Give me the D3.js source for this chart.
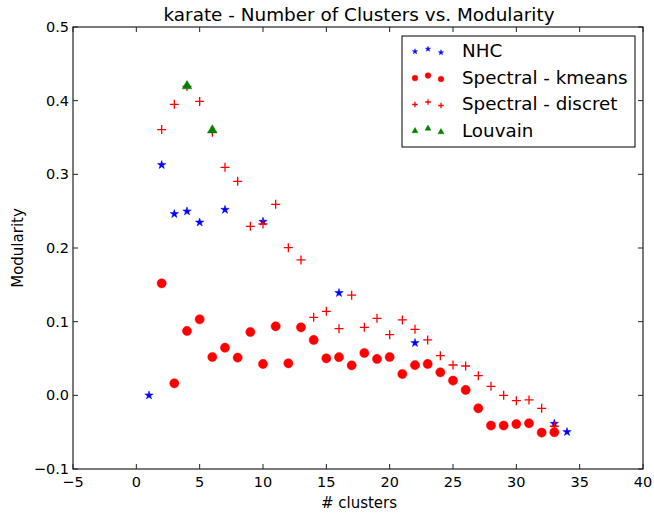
<!DOCTYPE html>
<html>
<head>
<meta charset="utf-8">
<script src="https://cdn.jsdelivr.net/npm/d3@7"></script>
<style>
  body { margin: 0; background: #fff; }
  svg { display: block; font-family: "DejaVu Sans", sans-serif; }
</style>
</head>
<body>
<svg id="chart" width="654" height="516"></svg>
<script>
// data
const nhcX = [1, 2, 3, 4, 5, 7, 10, 16, 22, 33, 34];
const nhcY = [0.0, 0.3127, 0.2462, 0.2498, 0.2348, 0.252, 0.2358, 0.139, 0.0711, -0.0384, -0.0497];

const kmeansX = [2, 3, 4, 5, 6, 7, 8, 9, 10, 11, 12, 13, 14, 15, 16, 17, 18, 19, 20, 21, 22, 23, 24, 25, 26, 27, 28, 29, 30, 31, 32, 33];
const kmeansY = [0.152, 0.0163, 0.0874, 0.1032, 0.052, 0.0647, 0.0512, 0.086, 0.0426, 0.0937, 0.0434, 0.0923, 0.0752, 0.0502, 0.0518,
  0.0407, 0.0575, 0.0494, 0.052, 0.029, 0.041, 0.0426, 0.0312, 0.020, 0.0073, -0.0176, -0.041, -0.041, -0.039, -0.038, -0.0506, -0.050];

const discretX = [2, 3, 4, 5, 6, 7, 8, 9, 10, 11, 12, 13, 14, 15, 16, 17, 18, 19, 20, 21, 22, 23, 24, 25, 26, 27, 28, 29, 30, 31, 32, 33];
const discretY = [0.3607, 0.395, 0.4195, 0.399, 0.357, 0.3095, 0.2905, 0.2294, 0.2326, 0.2593, 0.2005, 0.1838, 0.1059, 0.114, 0.0905,
  0.136, 0.0923, 0.1045, 0.0824, 0.1023, 0.0896, 0.0752, 0.0539, 0.0412, 0.0398, 0.0267, 0.0122, 0.0, -0.0072, -0.0063, -0.0176, -0.042];

const louvainX = [4, 6];
const louvainY = [0.4198, 0.3599];

const xTicks = [-5, 0, 5, 10, 15, 20, 25, 30, 35, 40];
const yTicks = [-0.1, 0.0, 0.1, 0.2, 0.3, 0.4, 0.5];

const series = [
  { name: "NHC", xs: nhcX, ys: nhcY, color: "#0000ff", shape: "star" },
  { name: "Spectral - kmeans", xs: kmeansX, ys: kmeansY, color: "#ff0000", shape: "circle" },
  { name: "Spectral - discret", xs: discretX, ys: discretY, color: "#ff0000", shape: "plus" },
  { name: "Louvain", xs: louvainX, ys: louvainY, color: "#008000", shape: "triangle" }
];

const svg = d3.select("#chart");
const mLeft = 73, mRight = 643, mTop = 27, mBottom = 469;

const x = d3.scaleLinear().domain([-5, 40]).range([mLeft, mRight]);
const y = d3.scaleLinear().domain([-0.1, 0.5]).range([mBottom, mTop]);

function marker(shape, big) {
  const k = big ? 1 : 0.62;
  if (shape === "star") return d3.symbol(d3.symbolStar, 22 * k * k)();
  if (shape === "circle") return d3.symbol(d3.symbolCircle, 66 * k * k)();
  if (shape === "triangle") return d3.symbol(d3.symbolTriangle, 40 * k * k)();
  const h = 4.5 * k;
  return `M${-h},0H${h}M0,${-h}V${h}`;
}

function drawMark(g, s, big) {
  const p = g.append("path").attr("d", marker(s.shape, big));
  if (s.shape === "plus") {
    p.attr("fill", "none").attr("stroke", s.color).attr("stroke-width", 1.3);
  } else {
    p.attr("fill", s.color).attr("stroke", s.color).attr("stroke-width", 0.5);
  }
  return p;
}

// points
series.forEach(s => {
  const g = svg.append("g");
  s.xs.forEach((xv, i) => {
    drawMark(g, s, true).attr("transform", `translate(${x(xv)},${y(s.ys[i])})`);
  });
});

// frame
svg.append("rect")
  .attr("x", mLeft).attr("y", mTop)
  .attr("width", mRight - mLeft).attr("height", mBottom - mTop)
  .attr("fill", "none").attr("stroke", "#222").attr("stroke-width", 1.2);

// ticks inside on all four sides
const tickLen = 5;
const tg = svg.append("g").attr("stroke", "#222").attr("stroke-width", 1);
xTicks.forEach(t => {
  tg.append("line").attr("x1", x(t)).attr("x2", x(t)).attr("y1", mBottom).attr("y2", mBottom - tickLen);
  tg.append("line").attr("x1", x(t)).attr("x2", x(t)).attr("y1", mTop).attr("y2", mTop + tickLen);
});
yTicks.forEach(t => {
  tg.append("line").attr("x1", mLeft).attr("x2", mLeft + tickLen).attr("y1", y(t)).attr("y2", y(t));
  tg.append("line").attr("x1", mRight).attr("x2", mRight - tickLen).attr("y1", y(t)).attr("y2", y(t));
});

// tick labels
const fmtY = d3.format(".1f");
svg.append("g").selectAll("text").data(xTicks).enter().append("text")
  .attr("x", d => x(d)).attr("y", mBottom + 18)
  .attr("text-anchor", "middle").attr("font-size", 14.5)
  .text(d => String(d).replace("-", "\u2212"));
svg.append("g").selectAll("text").data(yTicks).enter().append("text")
  .attr("x", mLeft - 4).attr("y", d => y(d) + 5)
  .attr("text-anchor", "end").attr("font-size", 14.5)
  .text(d => fmtY(d).replace("-", "\u2212"));

// labels
svg.append("text").attr("x", 359).attr("y", 20.5)
  .attr("text-anchor", "middle").attr("font-size", 18.4)
  .text("karate - Number of Clusters vs. Modularity");
svg.append("text").attr("x", (mLeft + mRight) / 2 + 1).attr("y", 507.5)
  .attr("text-anchor", "middle").attr("font-size", 15)
  .text("# clusters");
svg.append("text").attr("transform", `translate(23,${(mTop + mBottom) / 2}) rotate(-90)`)
  .attr("text-anchor", "middle").attr("font-size", 15)
  .text("Modularity");

// legend
const lg = svg.append("g");
lg.append("rect").attr("x", 402).attr("y", 36).attr("width", 233).attr("height", 111)
  .attr("fill", "#fff").attr("stroke", "#000").attr("stroke-width", 1);
const offs = [1, -1.5, 2];
const mxs = [415, 428, 441];
series.forEach((s, i) => {
  const cy = 50.5 + i * 26.5;
  mxs.forEach((mx, j) => {
    drawMark(lg, s, false).attr("transform", `translate(${mx},${cy + offs[j]})`);
  });
  lg.append("text").attr("x", 462).attr("y", cy + 6.5).attr("font-size", 18.3).text(s.name);
});
</script>
</body>
</html>
